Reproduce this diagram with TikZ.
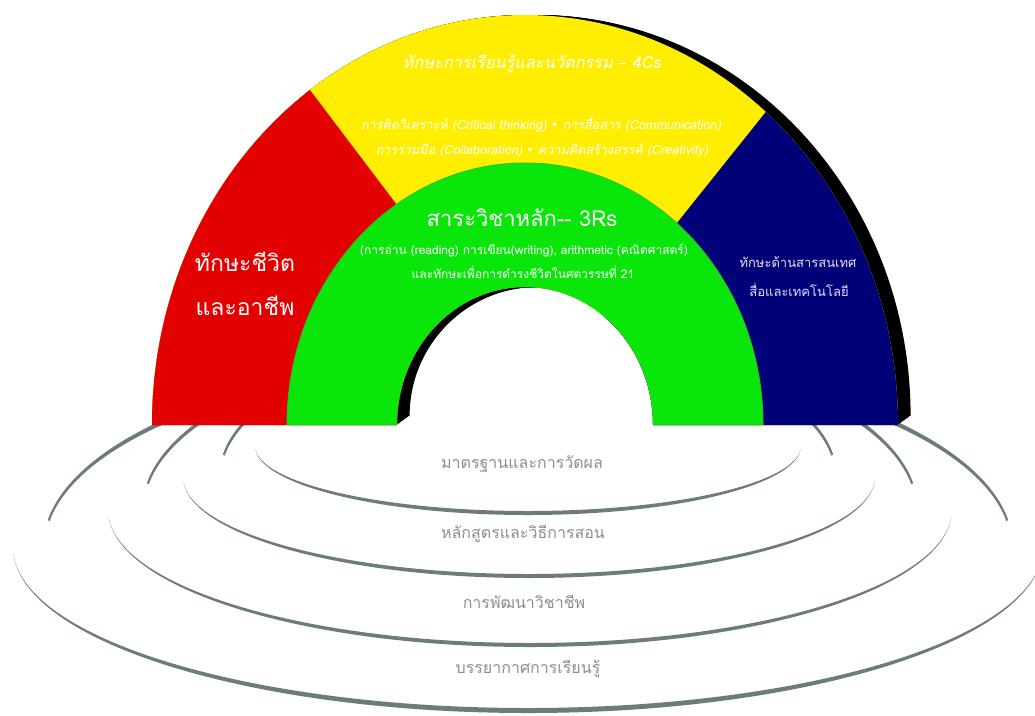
\documentclass[tikz,border=0pt]{standalone}
\usepackage{fontspec}
\usetikzlibrary{positioning}
\newfontfamily\thaifont[Script=Thai]{Loma}
\newfontfamily\thaislant[Script=Thai,FakeSlant=0.2]{Loma}
\newfontfamily\symfont{DejaVu Sans}

\definecolor{archred}{HTML}{E30000}
\definecolor{archyellow}{HTML}{FFEE00}
\definecolor{archgreen}{HTML}{0AE60A}
\definecolor{greenrim}{HTML}{22C522}
\definecolor{archblue}{HTML}{000078}
\definecolor{ringgray}{HTML}{6C7C79}
\definecolor{labelgray}{HTML}{8E8E8E}
\definecolor{bluetext}{HTML}{E4DEFF}

% arch band: centre x, base y, outer y radius, inner y radius
\newcommand{\archband}[4]{(#1-373,#2) arc[start angle=180, end angle=360, x radius=373, y radius=#3] -- (#1+128,#2) arc[start angle=0, end angle=-180, x radius=128, y radius=#4] -- cycle}

% ring piece: centre, outer radii, inner radii, start and end angle
\newcommand{\ringpiece}[8]{\fill[ringgray, shift={(#1,#2)}] (#7:#3 and #4) arc[start angle=#7, end angle=#8, x radius=#3, y radius=#4] -- (#8:#5 and #6) arc[start angle=#8, end angle=#7, x radius=#5, y radius=#6] -- cycle;}

\begin{document}
\begin{tikzpicture}[
        x=1pt, y=-1pt,
        band/.style = {inner sep=0pt, text=white},
        bigtext/.style = {band, font=\thaifont\fontsize{23}{28}\selectfont},
        slanthead/.style = {band, font=\thaislant\fontsize{16.3}{20}\selectfont},
        slanttext/.style = {band, font=\thaislant\fontsize{12.6}{15}\selectfont},
        corehead/.style = {band, font=\thaifont\fontsize{22}{26}\selectfont},
        coretext/.style = {band, font=\thaifont\fontsize{12}{14}\selectfont},
        mediatext/.style = {band, text=bluetext, font=\thaifont\fontsize{13}{16}\selectfont},
        ringtext/.style = {inner sep=0pt, text=labelgray, font=\thaifont\fontsize{16}{20}\selectfont}
        ]

        \useasboundingbox (0,0) rectangle (1035,715);
        \fill[white] (0,0) rectangle (1035,715);

        % rings under the arch
        \ringpiece{528}{446}{273}{69}{273}{65}{3}{177}
        \ringpiece{529}{477}{346}{101}{346}{97}{3}{177}
        \ringpiece{528}{477}{309}{143}{307}{137}{189}{212}
        \ringpiece{528}{477}{309}{143}{307}{137}{328}{351}
        \ringpiece{530}{510}{422}{137}{422}{133}{3}{177}
        \ringpiece{530}{510}{388}{171}{386}{165}{189}{218}
        \ringpiece{530}{510}{388}{171}{386}{165}{322}{351}
        \ringpiece{528}{547}{515}{166}{515}{161}{2}{178}
        \ringpiece{528}{547}{485}{193}{483}{187}{188}{226}
        \ringpiece{528}{547}{485}{193}{483}{187}{314}{352}

        % shadow of the arch
        \foreach \t in {0,0.1,...,1.0}
          \fill[black] \archband{525+14*\t}{425-10*\t}{410-10*\t}{138-10*\t};

        % coloured bands
        \begin{scope}
          \clip \archband{525}{425}{410}{138};
          \fill[archyellow] (0,0) rectangle (1035,425);
          \fill[archred] (527,377) -- (223,-25) -- (0,-25) -- (0,440) -- (527,440) -- cycle;
          \fill[archblue] (545,388) -- (873,-22) -- (1035,-22) -- (1035,440) -- (545,440) -- cycle;
          \filldraw[fill=archgreen, draw=greenrim, line width=1pt] (287,425) arc[start angle=180, end angle=360, x radius=238, y radius=262] -- cycle;
        \end{scope}

        \node[slanthead] (innov) at (532,64) {ทักษะการเรียนรู้และนวัตกรรม {\symfont –} 4Cs};
        \node[slanttext] (innova) at (541,124) {การคิดวิเคราะห์ (Critical thinking) {\symfont •} การสื่อสาร (Communication)};
        \node[slanttext] (innovb) at (542,150) {การร่วมมือ (Collaboration) {\symfont •} ความคิดสร้างสรรค์ (Creativity)};

        \node[corehead] (core) at (522,218) {สาระวิชาหลัก-{}- 3Rs};
        \node[coretext] (corea) at (524,250) {(การอ่าน (reading) การเขียน(writing), arithmetic (คณิตศาสตร์)};
        \node[coretext] (coreb) at (523,272) {และทักษะเพื่อการดำรงชีวิตในศตวรรษที่ 21};

        \node[bigtext] (life) at (245,262) {ทักษะชีวิต};
        \node[bigtext] (lifeb) at (245,306) {และอาชีพ};

        \node[mediatext] (media) at (798,262) {ทักษะด้านสารสนเทศ};
        \node[mediatext] (mediab) at (799,290) {สื่อและเทคโนโลยี};

        \node[ringtext] (ringa) at (522,464) {มาตรฐานและการวัดผล};
        \node[ringtext] (ringb) at (523,534) {หลักสูตรและวิธีการสอน};
        \node[ringtext] (ringc) at (524,602) {การพัฒนาวิชาชีพ};
        \node[ringtext] (ringd) at (528,669) {บรรยากาศการเรียนรู้};

      \end{tikzpicture}
\end{document}
